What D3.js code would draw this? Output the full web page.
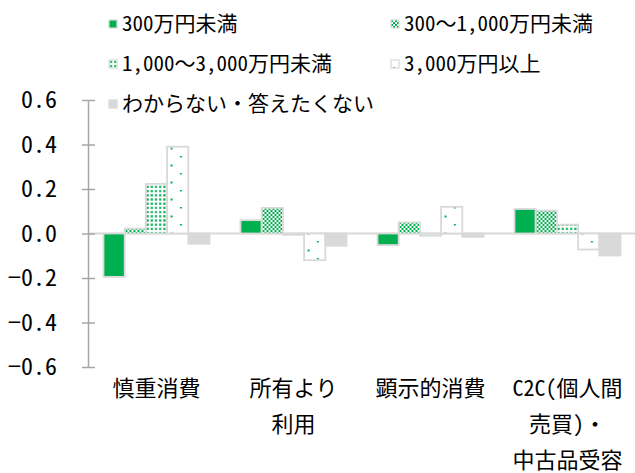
<!DOCTYPE html>
<html>
<head>
<meta charset="utf-8">
<script src="https://cdn.jsdelivr.net/npm/d3@7"></script>
<style>
  body { margin: 0; background: #fff; }
  svg text { font-family: "Noto Sans Mono CJK JP", "Noto Sans CJK JP", "Noto Sans", sans-serif; fill: #000; }
</style>
</head>
<body>
<svg id="chart" width="635" height="473"></svg>
<script>
// ---- data ----
const categories = ["慎重消費", "所有より利用", "顕示的消費", "C2C(個人間売買)・中古品受容"];
const categoryLines = [["慎重消費"], ["所有より", "利用"], ["顕示的消費"], ["C2C(個人間", "売買)・", "中古品受容"]];
const seriesNames = ["300万円未満", "300～1,000万円未満", "1,000～3,000万円未満", "3,000万円以上", "わからない・答えたくない"];
const seriesValues = [
  [-0.195, 0.06, -0.052, 0.11],   // 300万円未満
  [0.022, 0.115, 0.05, 0.103],    // 300～1,000万円未満
  [0.223, -0.006, -0.01, 0.04],   // 1,000～3,000万円未満
  [0.39, -0.12, 0.12, -0.072],    // 3,000万円以上
  [-0.046, -0.055, -0.015, -0.099] // わからない・答えたくない
];
const yTicks = [0.6, 0.4, 0.2, 0.0, -0.2, -0.4, -0.6];

const green = "#00b050";
const edge = "#d9d9d9";

const svg = d3.select("#chart");

// ---- patterns ----
const defs = svg.append("defs");
const fills = [green, "url(#pChecker)", "url(#pDots)", "url(#pSparse)", "#d9d9d9"];

const pChecker = defs.append("pattern").attr("id", "pChecker")
  .attr("patternUnits", "userSpaceOnUse").attr("width", 4).attr("height", 4);
pChecker.append("rect").attr("width", 4).attr("height", 4).attr("fill", "#fff");
pChecker.append("rect").attr("x", 0).attr("y", 0).attr("width", 2).attr("height", 2).attr("fill", green);
pChecker.append("rect").attr("x", 2).attr("y", 2).attr("width", 2).attr("height", 2).attr("fill", green);

const pDots = defs.append("pattern").attr("id", "pDots")
  .attr("patternUnits", "userSpaceOnUse").attr("width", 4.2).attr("height", 4.2);
pDots.append("rect").attr("width", 4.2).attr("height", 4.2).attr("fill", "#fff");
pDots.append("rect").attr("x", 1).attr("y", 1).attr("width", 2.2).attr("height", 2.2).attr("fill", green);

const pSparse = defs.append("pattern").attr("id", "pSparse")
  .attr("patternUnits", "userSpaceOnUse").attr("width", 18.6).attr("height", 17);
pSparse.append("rect").attr("width", 18.6).attr("height", 17).attr("fill", "#fff");
pSparse.append("rect").attr("x", 2).attr("y", 3).attr("width", 2).attr("height", 1.5).attr("fill", green);
pSparse.append("rect").attr("x", 11.3).attr("y", 11.5).attr("width", 2).attr("height", 2).attr("fill", green);

// ---- scales ----
const y = d3.scaleLinear().domain([-0.6, 0.6]).range([367, 100]);
const x0 = d3.scaleBand().domain(categories).range([88, 636]).paddingInner(0.226).paddingOuter(0.113);
const x1 = d3.scaleBand().domain(d3.range(seriesNames.length)).range([0, x0.bandwidth()]);

// zero line
svg.append("line")
  .attr("x1", 88).attr("x2", 636)
  .attr("y1", y(0)).attr("y2", y(0))
  .attr("stroke", edge).attr("stroke-width", 2);

// bars
const groups = svg.append("g").selectAll("g")
  .data(categories)
  .join("g")
  .attr("transform", d => `translate(${x0(d)},0)`);

groups.selectAll("rect")
  .data((c, ci) => seriesValues.map((vals, si) => ({ si: si, v: vals[ci] })))
  .join("rect")
  .attr("x", d => x1(d.si))
  .attr("width", x1.bandwidth())
  .attr("y", d => y(Math.max(0, d.v)))
  .attr("height", d => Math.abs(y(d.v) - y(0)))
  .attr("fill", d => fills[d.si])
  .attr("stroke", edge)
  .attr("stroke-width", 1.8);

// y axis
const yAxis = d3.axisLeft(y).tickValues(yTicks).tickFormat(d3.format(".1f")).tickSize(0);
const ya = svg.append("g").attr("transform", "translate(88,0)").call(yAxis);
ya.select(".domain").attr("stroke", "#a6a6a6").attr("stroke-width", 1.5);
ya.selectAll(".tick text")
  .attr("x", -31)
  .style("font-size", "24px")
  .text(d => d3.format(".1f")(d).replace("-", "−"));
ya.selectAll(".tick").append("line")
  .attr("x1", -6).attr("x2", 7)
  .attr("stroke", "#a6a6a6").attr("stroke-width", 1.5);

// x labels
svg.append("g").selectAll("text")
  .data(categories)
  .join("text")
  .attr("x", d => x0(d) + x0.bandwidth() / 2)
  .attr("y", 388)
  .attr("text-anchor", "middle")
  .style("font-size", "22px")
  .selectAll("tspan")
  .data((d, i) => categoryLines[i])
  .join("tspan")
  .attr("x", function () { return this.parentNode.getAttribute("x"); })
  .attr("dy", (d, i) => i === 0 ? "0.35em" : "36px")
  .text(d => d);

// legend
const legendPos = [[109, 24], [391, 24], [109, 64], [391, 64], [109, 104]];
const legend = svg.append("g").selectAll("g")
  .data(seriesNames)
  .join("g")
  .attr("transform", (d, i) => `translate(${legendPos[i][0]},${legendPos[i][1]})`);
legend.append("rect")
  .attr("x", 0).attr("y", -4).attr("width", 8).attr("height", 8)
  .attr("fill", (d, i) => fills[i])
  .attr("stroke", edge).attr("stroke-width", 1.2);
legend.append("text")
  .attr("x", 13).attr("dy", "0.35em")
  .style("font-size", "21px")
  .text(d => d);
</script>
</body>
</html>
